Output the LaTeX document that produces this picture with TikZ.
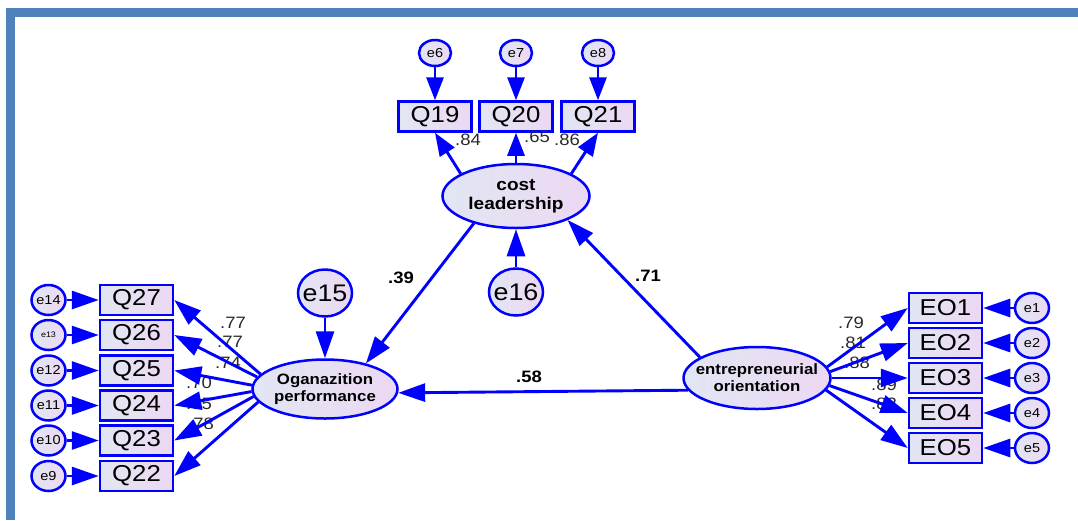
\documentclass[tikz,border=0pt]{standalone}
\usepackage{fontspec}
\setmainfont{Liberation Sans}[FakeStretch=1.12]
\usetikzlibrary{arrows.meta,shapes.geometric}
\definecolor{frameblue}{HTML}{4F81BD}
\definecolor{fillL}{HTML}{E2E6F3}
\definecolor{fillR}{HTML}{ECD8F3}
\definecolor{lbl}{HTML}{2A2A2A}
\begin{document}
\begin{tikzpicture}[x=1pt,y=-1pt,
 obs/.style={draw=blue, line width=2.5pt, left color=fillL, right color=fillR, minimum width=73pt, minimum height=30pt, inner sep=0pt, font=\fontsize{23}{25}\selectfont},
 errtext/.style={inner sep=0pt, font=\fontsize{13}{14}\selectfont},
 errs/.style={ellipse, draw=blue, line width=2.5pt, left color=fillL, right color=fillR, minimum width=34pt, minimum height=30pt, inner sep=0pt, label={[errtext]center:#1}},
 errt/.style={errs=#1, minimum width=32pt, minimum height=26pt},
 errb/.style={ellipse, draw=blue, line width=2.5pt, left color=fillL, right color=fillR, minimum width=54pt, minimum height=47pt, inner sep=0pt, label={[inner sep=0pt, font=\fontsize{24}{26}\selectfont]center:#1}},
 lat/.style={ellipse, draw=blue, line width=2.5pt, left color=fillL, right color=fillR, inner sep=0pt},
 latlabel/.style={align=center, inner sep=0pt, font=\bfseries\fontsize{15}{17}\selectfont},
 arr/.style={draw=blue, line width=2.9pt, -{Triangle[length=27pt,width=18pt]}},
 arrs/.style={arr, -{Triangle[length=23pt,width=17pt]}},
 ld/.style={text=lbl, font=\fontsize{16.5}{18}\selectfont, inner sep=0pt},
 pc/.style={text=black, font=\bfseries\fontsize{16.5}{18}\selectfont, inner sep=0pt},
]
\fill[white] (0,0) rectangle (1078,520);
\useasboundingbox (0,0) rectangle (1078,520);
\fill[frameblue] (6,8) rectangle (1078,17);
\fill[frameblue] (6,8) rectangle (15,520);

% latent variables
\node[lat, minimum width=147pt, minimum height=64pt] (CL) at (516,196) {};
\node[latlabel, font=\bfseries\fontsize{17}{19}\selectfont] (CLt) at (CL) {cost\\leadership};
\node[lat, minimum width=145pt, minimum height=59pt] (OP) at (325,389) {};
\node[latlabel] (OPt) at (OP) {Oganazition\\performance};
\node[lat, minimum width=147pt, minimum height=62pt] (EO) at (757,378) {};
\node[latlabel] (EOt) at (EO) {entrepreneurial\\orientation};

% top indicators
\node[obs] (Q19) at (435,116.5) {Q19};
\node[obs] (Q20) at (516,116.5) {Q20};
\node[obs] (Q21) at (598,116.5) {Q21};
\node[errt=e6] (e6) at (435,53) {};
\node[errt=e7] (e7) at (516,53) {};
\node[errt=e8] (e8) at (598,53) {};

% left indicators
\node[obs] (Q27) at (136.5,300) {Q27};
\node[obs] (Q26) at (136.5,335) {Q26};
\node[obs] (Q25) at (136.5,370.5) {Q25};
\node[obs] (Q24) at (136.5,405.5) {Q24};
\node[obs] (Q23) at (136.5,440.5) {Q23};
\node[obs] (Q22) at (136.5,476) {Q22};
\node[errs=e14] (e14) at (48.5,300) {};
\node[errs={\fontsize{8}{9}\selectfont e13}] (e13) at (48.5,335) {};
\node[errs=e12] (e12) at (48.5,370.5) {};
\node[errs=e11] (e11) at (48.5,405.5) {};
\node[errs=e10] (e10) at (48.5,440.5) {};
\node[errs=e9] (e9) at (48.5,476) {};

% right indicators
\node[obs] (EO1) at (945.5,308) {EO1};
\node[obs] (EO2) at (945.5,343) {EO2};
\node[obs] (EO3) at (945.5,378) {EO3};
\node[obs] (EO4) at (945.5,413) {EO4};
\node[obs] (EO5) at (945.5,448) {EO5};
\node[errs=e1] (e1) at (1032,308) {};
\node[errs=e2] (e2) at (1032,343) {};
\node[errs=e3] (e3) at (1032,378) {};
\node[errs=e4] (e4) at (1032,413) {};
\node[errs=e5] (e5) at (1032,448) {};

% structural errors
\node[errb=e15] (e15) at (325,293) {};
\node[errb=e16] (e16) at (516,292) {};

% loading labels
\node[ld] (l84) at (468,140) {.84};
\node[ld] (l65) at (537,137) {.65};
\node[ld] (l86) at (567,140) {.86};
\node[ld] (l27) at (233,323) {.77};
\node[ld] (l26) at (230,342) {.77};
\node[ld] (l25) at (228,363) {.74};
\node[ld] (l24) at (199,383) {.70};
\node[ld] (l23) at (199,404) {.85};
\node[ld] (l22) at (201,424) {.78};
\node[ld] (r1) at (851,323) {.79};
\node[ld] (r2) at (853,343) {.81};
\node[ld] (r3) at (857,363) {.88};
\node[ld] (r4) at (884,385) {.89};
\node[ld] (r5) at (884,404) {.82};

% path coefficients
\node[pc] (p39) at (401,278) {.39};
\node[pc] (p71) at (648,276) {.71};
\node[pc] (p58) at (529,377) {.58};

% arrows
\draw[arrs] (e6) -- (Q19);
\draw[arrs] (e7) -- (Q20);
\draw[arrs] (e8) -- (Q21);
\draw[arrs] (CL.158) -- (Q19.south);
\draw[arrs] (CL) -- (Q20);
\draw[arrs] (CL.22) -- (Q21.south);
\draw[arr] (e16) -- (CL);
\draw[arr] (e15) -- (OP);
\draw[arr] (CL.213) -- (OP.32);
\draw[arr] (EO.160) -- (CL.335);
\draw[arr] (EO.190) -- (OP.357);

\draw[arr] (OP.167) -- (Q27.east);
\draw[arr] (OP.170) -- (Q26.east);
\draw[arr] (OP.177) -- (Q25.east);
\draw[arr] (OP.182) -- (Q24.east);
\draw[arr] (OP.186) -- (Q23.east);
\draw[arr] (OP.191) -- (Q22.east);
\draw[arr] (e14) -- (Q27);
\draw[arr] (e13) -- (Q26);
\draw[arr] (e12) -- (Q25);
\draw[arr] (e11) -- (Q24);
\draw[arr] (e10) -- (Q23);
\draw[arr] (e9) -- (Q22);

\draw[arr] (EO.9) -- (EO1.west);
\draw[arr] (EO.5) -- (EO2.west);
\draw[arr] (EO.0) -- (EO3.west);
\draw[arr] (EO.354) -- (EO4.west);
\draw[arr] (EO.350) -- (EO5.west);
\draw[arr] (e1) -- (EO1);
\draw[arr] (e2) -- (EO2);
\draw[arr] (e3) -- (EO3);
\draw[arr] (e4) -- (EO4);
\draw[arr] (e5) -- (EO5);
\end{tikzpicture}
\end{document}
